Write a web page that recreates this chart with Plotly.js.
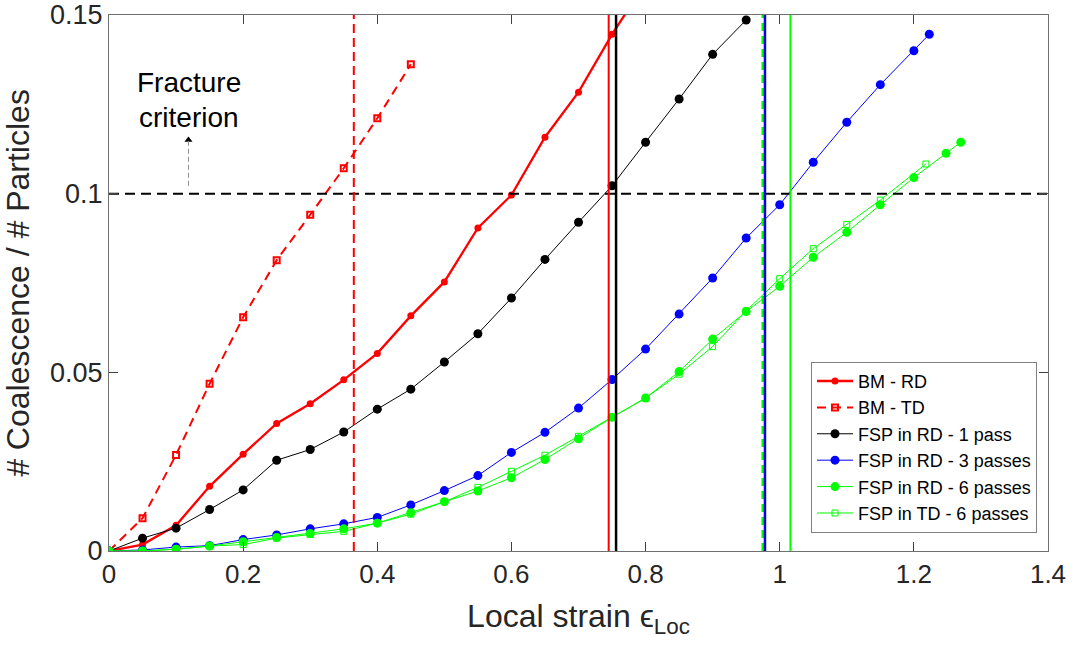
<!DOCTYPE html>
<html>
<head>
<meta charset="utf-8">
<script src="https://cdn.plot.ly/plotly-3.0.1.min.js"></script>
<style>html,body{margin:0;padding:0;background:#fff;}#chart{width:1072px;height:653px;}</style>
</head>
<body>
<div id="chart"></div>
<script>
// ---- data ----
const bmRdX = [0,0.05,0.1,0.15,0.2,0.25,0.3,0.35,0.4,0.45,0.5,0.55,0.6,0.65,0.7,0.75,0.8];
const bmRdY = [0,0.0018,0.0072,0.0181,0.0271,0.0357,0.0412,0.0479,0.0553,0.0658,0.0753,0.0904,0.0996,0.1158,0.1284,0.1446,0.159];

const bmTdX = [0,0.05,0.1,0.15,0.2,0.25,0.3,0.35,0.4,0.45];
const bmTdY = [0,0.0092,0.0269,0.0468,0.0654,0.0814,0.0941,0.1071,0.1211,0.1362];

const fsp1X = [0,0.05,0.1,0.15,0.2,0.25,0.3,0.35,0.4,0.45,0.5,0.55,0.6,0.65,0.7,0.75,0.8,0.85,0.9,0.95];
const fsp1Y = [0,0.0036,0.0064,0.0116,0.0171,0.0254,0.0284,0.0333,0.0397,0.0453,0.0529,0.0608,0.0708,0.0816,0.0920,0.1022,0.1144,0.1265,0.1390,0.1486];

const fsp3X = [0,0.05,0.1,0.15,0.2,0.25,0.3,0.35,0.4,0.45,0.5,0.55,0.6,0.65,0.7,0.75,0.8,0.85,0.9,0.95,1.0,1.05,1.1,1.15,1.2,1.223];
const fsp3Y = [0,0.0003,0.0011,0.0015,0.0032,0.0045,0.0062,0.0076,0.0094,0.0129,0.0169,0.0211,0.0276,0.0332,0.0400,0.0480,0.0565,0.0663,0.0764,0.0876,0.0969,0.1088,0.1200,0.1305,0.1400,0.1446];

const fsp6X = [0,0.05,0.1,0.15,0.2,0.25,0.3,0.35,0.4,0.45,0.5,0.55,0.6,0.65,0.7,0.75,0.8,0.85,0.9,0.95,1.0,1.05,1.1,1.15,1.2,1.248,1.27];
const fsp6Y = [0,0,0.0005,0.0014,0.0026,0.0038,0.0049,0.0062,0.0078,0.0107,0.0138,0.0168,0.0205,0.0256,0.0314,0.0374,0.0428,0.0502,0.0593,0.0670,0.0741,0.0822,0.0892,0.0969,0.1045,0.1113,0.1144];

const fspTd6X = [0,0.05,0.1,0.15,0.2,0.25,0.3,0.35,0.4,0.45,0.5,0.55,0.6,0.65,0.7,0.75,0.8,0.85,0.9,0.95,1.0,1.05,1.1,1.15,1.218];
const fspTd6Y = [0,0,0.0005,0.0014,0.0018,0.0036,0.0046,0.0055,0.0078,0.0103,0.0138,0.0178,0.0223,0.0268,0.0321,0.0374,0.0428,0.0495,0.0572,0.0672,0.0762,0.0846,0.0914,0.0982,0.1083];

// fracture strains (vertical lines) and criterion
const fracBmRd = 0.745, fracBmTd = 0.365, fracFsp1 = 0.756, fracFsp3 = 0.978, fracFsp6 = 1.016, fracFspTd6 = 0.975;
const criterion = 0.1;
const xRange = [0, 1.4], yRange = [0, 0.15];
const xTicks = [0,0.2,0.4,0.6,0.8,1,1.2,1.4];
const xTickText = ['0','0.2','0.4','0.6','0.8','1','1.2','1.4'];
const yTicks = [0,0.05,0.1,0.15];
const yTickText = ['0','0.05','0.1','0.15'];
// "Fracture criterion" note arrow (data coords)
const noteX = 0.1185, noteTailY = 0.1022, noteHeadY = 0.1150;

const FONT = 'Liberation Sans, Arial, Helvetica, sans-serif';

function vline(x, color, width, dash) {
  return {x:[x,x], y:yRange, mode:'lines', line:{color:color, width:width, dash:dash||'solid'}, showlegend:false, hoverinfo:'skip'};
}

const traces = [
  {x:bmRdX, y:bmRdY, name:'BM - RD', mode:'lines+markers', line:{color:'#ff0000', width:2.3}, marker:{color:'#ff0000', size:7, symbol:'circle'}},
  {x:bmTdX, y:bmTdY, name:'BM - TD', mode:'lines+markers', line:{color:'#ff0000', width:2, dash:'9px,6px'}, marker:{color:'#ff0000', size:6, symbol:'square-open', line:{width:2}}},
  {x:fsp1X, y:fsp1Y, name:'FSP in RD - 1 pass', mode:'lines+markers', line:{color:'#000000', width:1}, marker:{color:'#000000', size:9, symbol:'circle'}},
  {x:fsp3X, y:fsp3Y, name:'FSP in RD - 3 passes', mode:'lines+markers', line:{color:'#0000ff', width:1}, marker:{color:'#0000ff', size:9, symbol:'circle'}},
  {x:fsp6X, y:fsp6Y, name:'FSP in RD - 6 passes', mode:'lines+markers', line:{color:'#00ff00', width:1}, marker:{color:'#00ff00', size:9, symbol:'circle'}},
  {x:fspTd6X, y:fspTd6Y, name:'FSP in TD - 6 passes', mode:'lines+markers', line:{color:'#00ff00', width:1}, marker:{color:'#00ff00', size:6, symbol:'square-open', line:{width:1}}},
  {x:xRange, y:[criterion,criterion], mode:'lines', line:{color:'#000000', width:2, dash:'10px,6px'}, showlegend:false, hoverinfo:'skip'},
  vline(fracBmTd, '#ff0000', 2, '9px,5px'),
  vline(fracBmRd, '#ff0000', 2),
  vline(fracFsp1, '#000000', 2.5),
  vline(fracFspTd6, '#00ff00', 3, '8px,5px'),
  vline(fracFsp3, '#0000ff', 2.5),
  vline(fracFsp6, '#00ff00', 2),
  {x:[noteX], y:[noteHeadY], mode:'markers', marker:{symbol:'triangle-up', size:7, color:'#000000'}, showlegend:false, hoverinfo:'skip', cliponaxis:false}
];

const layout = {
  width:1072, height:653,
  margin:{l:108.5, r:24, t:15, b:102},
  paper_bgcolor:'#ffffff', plot_bgcolor:'#ffffff',
  font:{family:FONT, color:'#262626'},
  showlegend:true,
  xaxis:{
    range:xRange, tickvals:xTicks, ticktext:xTickText, ticks:'inside', ticklen:9, tickcolor:'#404040',
    showline:true, linecolor:'#707070', linewidth:1, mirror:'ticks', showgrid:false, zeroline:false,
    tickfont:{size:26, color:'#262626'},
    title:{text:'Local strain ϵ<sub>Loc</sub>', font:{size:32, color:'#262626'}, standoff:16}
  },
  yaxis:{
    range:yRange, tickvals:yTicks, ticktext:yTickText, ticks:'inside', ticklen:9, tickcolor:'#404040',
    showline:true, linecolor:'#707070', linewidth:1, mirror:'ticks', showgrid:false, zeroline:false,
    tickfont:{size:27, color:'#262626'},
    title:{text:'# Coalescence / # Particles', font:{size:32, color:'#262626'}, standoff:10}
  },
  legend:{
    x:0.9883, y:0.034, xanchor:'right', yanchor:'bottom',
    bgcolor:'#ffffff', bordercolor:'#808080', borderwidth:1,
    font:{size:18, color:'#000000', family:FONT}, tracegroupgap:0, itemwidth:36
  },
  shapes:[
    {type:'line', xref:'x', yref:'y', x0:noteX, x1:noteX, y0:noteTailY, y1:noteHeadY, line:{color:'#909090', width:1, dash:'5px,3px'}}
  ],
  annotations:[
    {xref:'paper', yref:'paper', x:(189-108.5)/939.5, y:(551-82)/536, xanchor:'center', yanchor:'middle', text:'Fracture', showarrow:false, font:{size:28, color:'#000000'}},
    {xref:'paper', yref:'paper', x:(189-108.5)/939.5, y:(551-118)/536, xanchor:'center', yanchor:'middle', text:'criterion', showarrow:false, font:{size:28, color:'#000000'}}
  ]
};

Plotly.newPlot('chart', traces, layout, {displayModeBar:false, staticPlot:true});
</script>
</body>
</html>
